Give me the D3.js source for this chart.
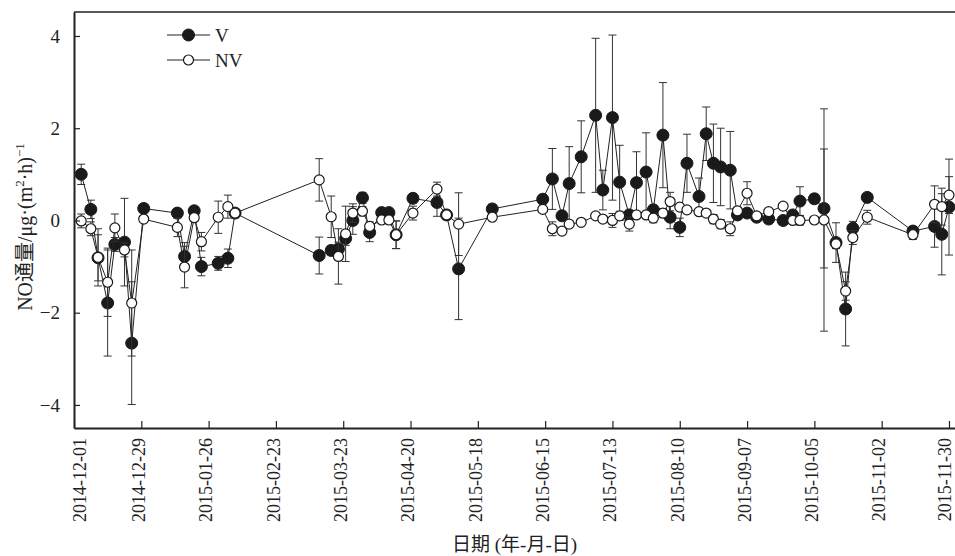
<!DOCTYPE html>
<html>
<head>
<meta charset="utf-8">
<script src="https://cdn.jsdelivr.net/npm/d3@7"></script>
<style>
  body { margin: 0; background: #fff; }
  svg text { font-family: "Liberation Serif", "Times New Roman", serif; fill: #222; }
  svg text .cjk { font-family: "Noto Sans CJK SC", sans-serif; }
</style>
</head>
<body>
<div id="chart"></div>
<script>
// sampling dates (both series share them)
const dates = [
  "2014-12-04", "2014-12-08", "2014-12-11", "2014-12-15", "2014-12-18", "2014-12-22", "2014-12-25", "2014-12-30",
  "2015-01-13", "2015-01-16", "2015-01-20", "2015-01-23", "2015-01-30", "2015-02-03", "2015-02-06",
  "2015-03-13", "2015-03-18", "2015-03-21", "2015-03-24", "2015-03-27", "2015-03-31",
  "2015-04-03", "2015-04-08", "2015-04-11", "2015-04-14", "2015-04-21",
  "2015-05-01", "2015-05-05", "2015-05-10", "2015-05-24",
  "2015-06-14", "2015-06-18", "2015-06-22", "2015-06-25", "2015-06-30",
  "2015-07-06", "2015-07-09", "2015-07-13", "2015-07-16", "2015-07-20", "2015-07-23", "2015-07-27", "2015-07-30",
  "2015-08-03", "2015-08-06", "2015-08-10", "2015-08-13", "2015-08-18", "2015-08-21", "2015-08-24", "2015-08-27", "2015-08-31",
  "2015-09-03", "2015-09-07", "2015-09-11", "2015-09-16", "2015-09-22", "2015-09-26", "2015-09-29",
  "2015-10-05", "2015-10-09", "2015-10-14", "2015-10-18", "2015-10-21", "2015-10-27",
  "2015-11-15", "2015-11-24", "2015-11-27", "2015-11-30"
];

// V series
const vMean = [
  1.00, 0.24, -0.81, -1.79, -0.52, -0.47, -2.66, 0.26,
  0.16, -0.78, 0.21, -1.00, -0.93, -0.82, 0.16,
  -0.76, -0.65, -0.62, -0.39, 0.00, 0.49,
  -0.26, 0.17, 0.17, -0.31, 0.48,
  0.39, 0.12, -1.05, 0.25,
  0.46, 0.90, 0.10, 0.80, 1.38,
  2.28, 0.66, 2.23, 0.83, 0.12, 0.82, 1.05, 0.23,
  1.85, 0.07, -0.15, 1.24, 0.52, 1.88, 1.24, 1.16, 1.09,
  0.12, 0.16, 0.07, 0.03, 0.00, 0.12, 0.42,
  0.47, 0.26, -0.48, -1.92, -0.17, 0.50,
  -0.23, -0.13, -0.30, 0.29
];
const vErr = [
  0.22, 0.20, 0.50, 1.15, 0.15, 0.95, 1.33, 0.08,
  0.08, 0.30, 0.08, 0.20, 0.15, 0.20, 0.10,
  0.40, 0.10, 0.15, 0.15, 0.30, 0.12,
  0.20, 0.05, 0.05, 0.30, 0.10,
  0.30, 0.05, 1.10, 0.10,
  0.10, 0.66, 0.10, 0.80, 0.78,
  1.67, 0.43, 1.79, 0.80, 0.10, 0.67, 0.85, 0.10,
  1.14, 0.25, 0.20, 0.63, 0.40, 0.58, 0.85, 0.84, 0.84,
  0.05, 0.05, 0.05, 0.05, 0.05, 0.05, 0.31,
  0.10, 1.29, 0.43, 0.80, 0.15, 0.05,
  0.10, 0.45, 0.88, 1.04
];

// NV series
const nvMean = [
  -0.01, -0.18, -0.80, -1.34, -0.16, -0.64, -1.79, 0.03,
  -0.15, -1.01, 0.06, -0.46, 0.07, 0.30, 0.16,
  0.88, 0.08, -0.78, -0.29, 0.16, 0.20,
  -0.13, 0.01, 0.01, -0.31, 0.16,
  0.68, 0.12, -0.08, 0.07,
  0.24, -0.18, -0.23, -0.08, -0.04,
  0.10, 0.03, 0.00, 0.10, -0.08, 0.12, 0.12, 0.05,
  0.16, 0.41, 0.29, 0.23, 0.19, 0.16, 0.03, -0.08, -0.18,
  0.21, 0.59, 0.10, 0.19, 0.31, 0.00, 0.00,
  0.01, 0.01, -0.51, -1.53, -0.37, 0.07,
  -0.31, 0.35, 0.30, 0.55
];
const nvErr = [
  0.15, 0.15, 0.62, 0.74, 0.30, 0.15, 1.15, 0.05,
  0.20, 0.45, 0.05, 0.20, 0.35, 0.25, 0.10,
  0.46, 0.45, 0.60, 0.60, 0.20, 0.10,
  0.10, 0.05, 0.05, 0.30, 0.15,
  0.15, 0.05, 0.68, 0.05,
  0.05, 0.15, 0.05, 0.05, 0.05,
  0.05, 0.05, 0.15, 0.10, 0.15, 0.05, 0.05, 0.10,
  0.10, 0.20, 0.05, 0.05, 0.05, 0.05, 0.10, 0.10, 0.15,
  0.05, 0.25, 0.05, 0.05, 0.05, 0.05, 0.10,
  0.05, 2.41, 0.10, 0.20, 0.15, 0.15,
  0.10, 0.40, 0.40, 0.40
];

// axis ticks
const xTickLabels = [
  "2014-12-01", "2014-12-29", "2015-01-26", "2015-02-23", "2015-03-23", "2015-04-20", "2015-05-18",
  "2015-06-15", "2015-07-13", "2015-08-10", "2015-09-07", "2015-10-05", "2015-11-02", "2015-11-30"
];
const yTicks = [-4, -2, 0, 2, 4];

const width = 955;
const height = 556;
const plotLeft = 74, plotRight = 955, plotTop = 12, plotBottom = 428;
const serif = '"Liberation Serif", "Times New Roman", serif';

const parse = d3.timeParse("%Y-%m-%d");

const x = d3.scaleTime()
    .domain([parse("2014-12-01"), new Date(2015, 11, 2, 12)])
    .range([plotLeft, plotRight]);

const y = d3.scaleLinear()
    .domain([-4.5, 4.52])
    .range([plotBottom, plotTop]);

const svg = d3.select("#chart")
    .append("svg")
    .attr("width", width)
    .attr("height", height);

// build row tables
const vData = dates.map((d, i) => ({ date: parse(d), mean: vMean[i], err: vErr[i] }));
const nvData = dates.map((d, i) => ({ date: parse(d), mean: nvMean[i], err: nvErr[i] }));

const line = d3.line()
    .x(d => x(d.date))
    .y(d => y(d.mean));

// top border
svg.append("line")
    .attr("x1", plotLeft).attr("x2", plotRight)
    .attr("y1", plotTop).attr("y2", plotTop)
    .attr("stroke", "#222")
    .attr("stroke-width", 1.5);

function drawSeries(data, filled) {
    const g = svg.append("g");

    // error bars
    const eb = g.selectAll(".eb")
        .data(data)
        .enter()
        .append("g")
        .attr("stroke", "#333")
        .attr("stroke-width", 1);
    eb.append("line")
        .attr("x1", d => x(d.date)).attr("x2", d => x(d.date))
        .attr("y1", d => y(d.mean + d.err)).attr("y2", d => y(d.mean - d.err));
    eb.append("line")
        .attr("x1", d => x(d.date) - 4).attr("x2", d => x(d.date) + 4)
        .attr("y1", d => y(d.mean + d.err)).attr("y2", d => y(d.mean + d.err));
    eb.append("line")
        .attr("x1", d => x(d.date) - 4).attr("x2", d => x(d.date) + 4)
        .attr("y1", d => y(d.mean - d.err)).attr("y2", d => y(d.mean - d.err));

    g.append("path")
        .datum(data)
        .attr("d", line)
        .attr("fill", "none")
        .attr("stroke", "#222")
        .attr("stroke-width", 1);

    g.selectAll("circle")
        .data(data)
        .enter()
        .append("circle")
        .attr("cx", d => x(d.date))
        .attr("cy", d => y(d.mean))
        .attr("r", filled ? 6 : 5)
        .attr("fill", filled ? "#1a1a1a" : "#fff")
        .attr("stroke", "#1a1a1a")
        .attr("stroke-width", filled ? 1 : 1.2);
}

drawSeries(vData, true);
drawSeries(nvData, false);

// y axis
const yAxis = d3.axisLeft(y)
    .tickValues(yTicks)
    .tickSizeInner(-6)
    .tickSizeOuter(0)
    .tickPadding(14)
    .tickFormat(d => d < 0 ? "\u2212" + Math.abs(d) : d);

const gy = svg.append("g")
    .attr("transform", `translate(${plotLeft},0)`)
    .call(yAxis)
    .attr("font-family", serif)
    .attr("font-size", 18);
gy.select(".domain").attr("stroke", "#222").attr("stroke-width", 2);
gy.selectAll(".tick line").attr("stroke", "#222").attr("stroke-width", 1.2);
gy.selectAll("text").style("font-family", serif).style("font-size", "19px").attr("fill", "#222");

// x axis
const xAxis = d3.axisBottom(x)
    .tickValues(xTickLabels.map(parse))
    .tickSizeInner(-7)
    .tickSizeOuter(0)
    .tickFormat(d3.timeFormat("%Y-%m-%d"));

const gx = svg.append("g")
    .attr("transform", `translate(0,${plotBottom})`)
    .call(xAxis)
    .attr("font-family", serif)
    .attr("font-size", 18);
gx.select(".domain").attr("stroke", "#222").attr("stroke-width", 2);
gx.selectAll(".tick line").attr("stroke", "#222").attr("stroke-width", 1.2);
const nLab = xTickLabels.length;
gx.selectAll("text")
    .style("font-family", serif)
    .style("font-size", "18px")
    .attr("fill", "#222")
    .attr("transform", "rotate(-90)")
    .attr("text-anchor", "end")
    .attr("x", -10)
    .attr("y", (d, i) => i === 0 ? 5 : (i === nLab - 1 ? -5 : -3))
    .attr("dy", "0.35em");

// axis titles
const xTitle = svg.append("text")
    .attr("x", (plotLeft + plotRight) / 2)
    .attr("y", 551)
    .attr("text-anchor", "middle")
    .style("font-size", "19px");
xTitle.append("tspan").attr("class", "cjk").text("日期");
xTitle.append("tspan").text(" (");
xTitle.append("tspan").attr("class", "cjk").text("年");
xTitle.append("tspan").text("-");
xTitle.append("tspan").attr("class", "cjk").text("月");
xTitle.append("tspan").text("-");
xTitle.append("tspan").attr("class", "cjk").text("日");
xTitle.append("tspan").text(")");

const yTitle = svg.append("text")
    .attr("transform", "translate(32,227) rotate(-90)")
    .attr("text-anchor", "middle")
    .style("font-size", "20px");
yTitle.append("tspan").text("NO");
yTitle.append("tspan").attr("class", "cjk").text("通量");
yTitle.append("tspan").text("/μg·(m");
yTitle.append("tspan").attr("dy", -8).style("font-size", "13px").text("2");
yTitle.append("tspan").attr("dy", 8).text("·h)");
yTitle.append("tspan").attr("dy", -8).style("font-size", "13px").text("−1");

// legend
const legend = [
    { label: "V", filled: true, y: 35 },
    { label: "NV", filled: false, y: 60 }
];
const lg = svg.selectAll(".legend")
    .data(legend)
    .enter()
    .append("g")
    .attr("transform", d => `translate(167,${d.y})`);
lg.append("line")
    .attr("x1", 0).attr("x2", 43)
    .attr("stroke", "#222")
    .attr("stroke-width", 1);
lg.append("circle")
    .attr("cx", 21.5)
    .attr("r", d => d.filled ? 6 : 5)
    .attr("fill", d => d.filled ? "#1a1a1a" : "#fff")
    .attr("stroke", "#1a1a1a")
    .attr("stroke-width", d => d.filled ? 1 : 1.2);
lg.append("text")
    .attr("x", 48)
    .attr("dy", "0.35em")
    .style("font-size", "19px")
    .text(d => d.label);
</script>
</body>
</html>
